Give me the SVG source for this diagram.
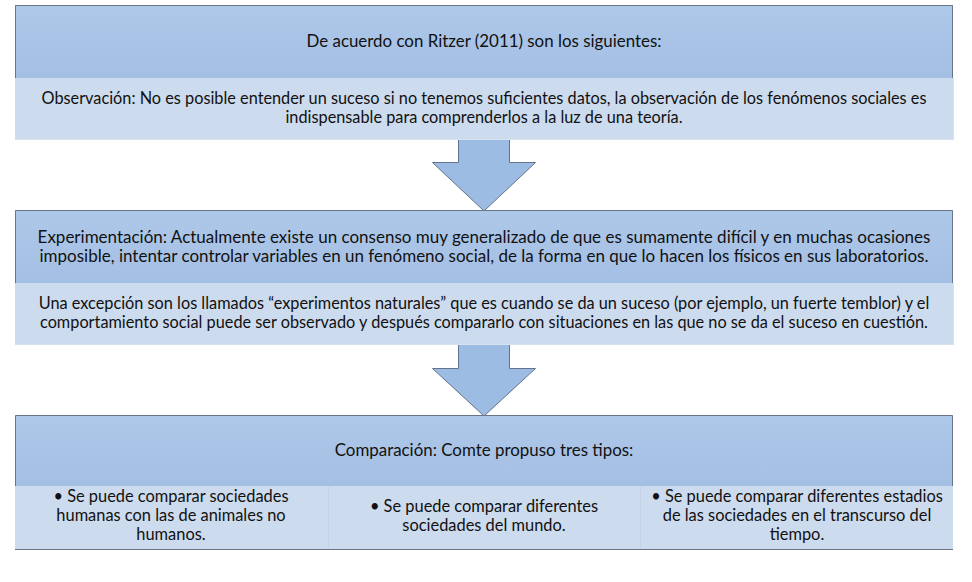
<svg xmlns="http://www.w3.org/2000/svg" width="972" height="582" viewBox="0 0 972 582">
<defs>
<linearGradient id="hg" x1="0" y1="0" x2="0" y2="1">
<stop offset="0" stop-color="#aec8e9"/>
<stop offset="1" stop-color="#a4bfe4"/>
</linearGradient>
<style>
.hdr{fill:url(#hg);stroke:none}
.hb{fill:none;stroke:#6a7687;stroke-width:1}
.low{fill:#cddbee;stroke:none}
.lowb{fill:none;stroke:#d8e2ef;stroke-width:1}
.arr{fill:#9dbce3;stroke:#62748d;stroke-width:1;stroke-linejoin:miter}
.t{font-family:Lato,"Liberation Sans",sans-serif;font-size:16.3px;fill:#111;text-anchor:middle}
.h{font-size:16.9px}
.e{font-size:17px}
.b{font-size:16.4px}
.div{stroke:#c3d3e8;stroke-width:1}
</style>
</defs>
<rect width="972" height="582" fill="#ffffff"/>
<g id="connectors">
<path class="arr" d="M458.5,140 V162.5 H432.5 L484,211 L535.5,162.5 H509.5 V140"/>
<path class="arr" d="M458.5,345 V368.5 H432.5 L484,416 L535.5,368.5 H509.5 V345"/>
</g>
<g id="box1">
<rect class="hdr" x="15" y="5" width="938" height="73"/>
<path class="hb" d="M15.5,78 V5.5 H952.5 V78"/>
<rect class="low" x="15" y="78" width="939" height="62"/>
<path class="lowb" d="M15,139.5 H953.5 V78"/>
<text class="t h" x="484" y="47">De acuerdo con Ritzer (2011) son los siguientes:</text>
<text class="t" x="484" y="104">Observación: No es posible entender un suceso si no tenemos suficientes datos, la observación de los fenómenos sociales es</text>
<text class="t" x="484" y="123">indispensable para comprenderlos a la luz de una teoría.</text>
</g>
<g id="box2">
<rect class="hdr" x="15" y="210" width="938" height="73"/>
<path class="hb" d="M15.5,283 V210.5 H952.5 V283"/>
<rect class="low" x="15" y="283" width="939" height="62"/>
<path class="lowb" d="M15,344.5 H953.5 V283"/>
<text class="t e" x="484" y="243">Experimentación: Actualmente existe un consenso muy generalizado de que es sumamente difícil y en muchas ocasiones</text>
<text class="t e" x="484" y="262">imposible, intentar controlar variables en un fenómeno social, de la forma en que lo hacen los físicos en sus laboratorios.</text>
<text class="t" x="484" y="309">Una excepción son los llamados “experimentos naturales” que es cuando se da un suceso (por ejemplo, un fuerte temblor) y el</text>
<text class="t" x="484" y="328">comportamiento social puede ser observado y después compararlo con situaciones en las que no se da el suceso en cuestión.</text>
</g>
<g id="box3">
<rect class="hdr" x="15" y="415" width="938" height="71"/>
<path class="hb" d="M15.5,486 V415.5 H952.5 V486"/>
<rect class="low" x="15" y="486" width="938" height="64"/>
<line class="div" x1="328.5" y1="486" x2="328.5" y2="549"/>
<line class="div" x1="640.5" y1="486" x2="640.5" y2="549"/>
<path d="M15,549.5 H953" stroke="#6a7687" stroke-width="1.2" fill="none"/>
<text class="t h" x="484" y="456">Comparación: Comte propuso tres tipos:</text>
<text class="t b" x="171" y="502">• Se puede comparar sociedades</text>
<text class="t b" x="171" y="521">humanas con las de animales no</text>
<text class="t b" x="171" y="540">humanos.</text>
<text class="t b" x="484" y="512">• Se puede comparar diferentes</text>
<text class="t b" x="484" y="531">sociedades del mundo.</text>
<text class="t b" x="797" y="502">• Se puede comparar diferentes estadios</text>
<text class="t b" x="797" y="521">de las sociedades en el transcurso del</text>
<text class="t b" x="797" y="540">tiempo.</text>
</g>
</svg>
